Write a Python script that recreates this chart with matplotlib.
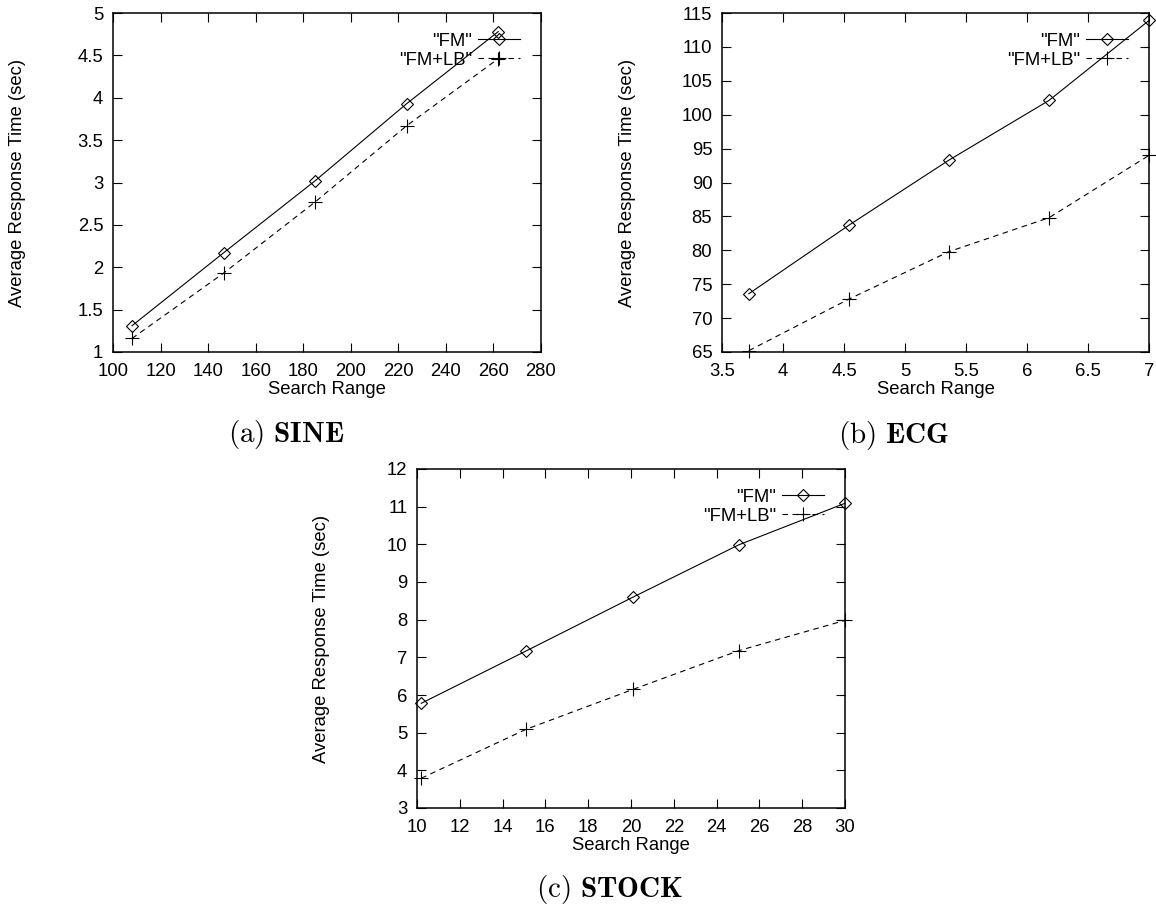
import numpy as np
import matplotlib
matplotlib.use('Agg')
import matplotlib.pyplot as plt
from matplotlib.ticker import FormatStrFormatter

# data
sine_x = [108, 146.5, 185, 223.5, 262]
sine_fm = [1.31, 2.17, 3.02, 3.93, 4.78]
sine_lb = [1.16, 1.93, 2.77, 3.67, 4.46]

ecg_x = [3.72, 4.54, 5.36, 6.18, 7.0]
ecg_fm = [73.6, 83.7, 93.3, 102.1, 113.9]
ecg_lb = [65.2, 72.8, 79.8, 84.8, 94.0]

stock_x = [10.2, 15.1, 20.1, 25.05, 30]
stock_fm = [5.78, 7.17, 8.6, 9.99, 11.09]
stock_lb = [3.79, 5.09, 6.15, 7.18, 7.98]

labels = ['"FM"', '"FM+LB"']
captions = [r'$\mathrm{(a)}\ \mathbf{SINE}$', r'$\mathrm{(b)}\ \mathbf{ECG}$',
            r'$\mathrm{(c)}\ \mathbf{STOCK}$']

plt.rcParams['font.family'] = ['Liberation Sans', 'DejaVu Sans']
plt.rcParams['mathtext.fontset'] = 'cm'
plt.rc('font', size=13.3)

W, H = 1156, 910
fig = plt.figure(figsize=(W / 100, H / 100), dpi=100)

def px_axes(left, top, w=428, h=339):
    return fig.add_axes([left / W, 1 - (top + h) / H, w / W, h / H])

def panel(ax, x, fm, lb, xlim, xticks, ylim, yticks):
    ax.plot(x, fm, color='black', lw=0.8, marker='D', ms=6.5, mfc='none',
            mew=0.8, label=labels[0], clip_on=False)
    ax.plot(x, lb, color='black', lw=0.8, ls=(0, (5, 4)), marker='+', ms=10,
            mew=0.8, label=labels[1], clip_on=False)
    ax.set_xlim(xlim)
    ax.set_ylim(ylim)
    ax.set_xticks(xticks)
    ax.set_yticks(yticks)
    ax.xaxis.set_major_formatter(FormatStrFormatter('%g'))
    ax.yaxis.set_major_formatter(FormatStrFormatter('%g'))
    ax.tick_params(direction='in', length=6.3, width=0.8, top=True, right=True,
                   pad=7)
    ax.tick_params(axis='x', pad=8)
    for s in ax.spines.values():
        s.set_linewidth(1.1)
    ax.set_xlabel('Search Range')
    ax.set_ylabel('Average Response Time (sec)')
    ax.xaxis.set_label_coords(0.5, -0.112)
    ax.xaxis.label.set_verticalalignment('center')
    ax.yaxis.set_label_coords(-0.222, 0.5)
    ax.yaxis.label.set_verticalalignment('center')
    ax.legend(loc='upper right', bbox_to_anchor=(0.95, 0.942), frameon=False,
              markerfirst=False, handlelength=2.27, handletextpad=0.3,
              labelspacing=0.12, borderpad=0, borderaxespad=0)

ax1 = px_axes(113, 13)
panel(ax1, sine_x, sine_fm, sine_lb, (100, 280), np.arange(100, 281, 20),
      (1, 5), np.arange(1, 5.01, 0.5))

ax2 = px_axes(722, 13, w=427)
panel(ax2, ecg_x, ecg_fm, ecg_lb, (3.5, 7), np.arange(3.5, 7.01, 0.5),
      (65, 115), np.arange(65, 116, 5))

ax3 = px_axes(417, 469)
panel(ax3, stock_x, stock_fm, stock_lb, (10, 30), np.arange(10, 31, 2),
      (3, 12), np.arange(3, 13, 1))

fig.text(286 / W, 1 - 434 / H, captions[0], ha='center', va='center', fontsize=21)
fig.text(893 / W, 1 - 435 / H, captions[1], ha='center', va='center', fontsize=21)
fig.text(610 / W, 1 - 889 / H, captions[2], ha='center', va='center', fontsize=21)

plt.savefig('out.png', dpi=100)
